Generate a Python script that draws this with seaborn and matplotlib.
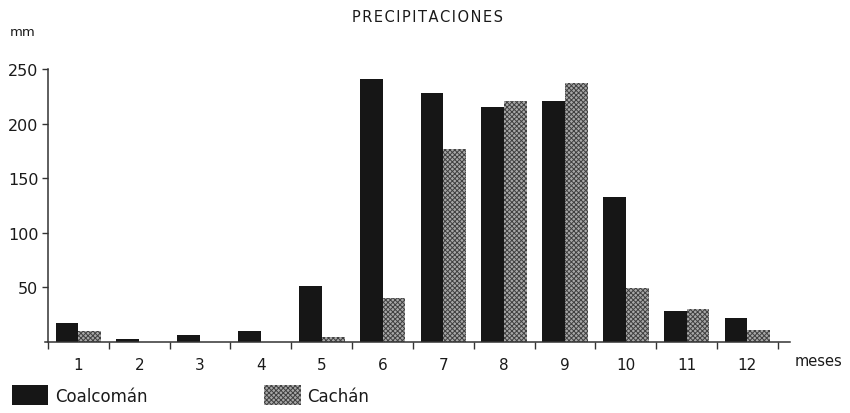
import matplotlib
matplotlib.use("Agg")
import matplotlib.pyplot as plt
import pandas as pd
import seaborn as sns

# datos (mm por mes)
meses = ["1", "2", "3", "4", "5", "6", "7", "8", "9", "10", "11", "12"]
coalcoman = [17, 3, 6, 10, 51, 241, 228, 215, 221, 133, 28, 22]
cachan = [10, 0, 0, 0, 5, 40, 177, 221, 237, 49, 30, 11]
estaciones = ["Coalcomán", "Cachán"]

df = pd.DataFrame({
    "mes": meses * 2,
    "mm": coalcoman + cachan,
    "estacion": [estaciones[0]] * 12 + [estaciones[1]] * 12,
})

sns.set_style("ticks")
plt.rcParams["font.family"] = ["DejaVu Sans"]
plt.rcParams["hatch.linewidth"] = 0.7
plt.rcParams["text.color"] = "#1a1a1a"
plt.rcParams["xtick.labelcolor"] = "#1a1a1a"
plt.rcParams["ytick.labelcolor"] = "#1a1a1a"

fig = plt.figure(figsize=(8.5, 4.14), dpi=100)
ax = fig.add_axes([45 / 850, 71 / 414, 745 / 850, 278.5 / 414])

sns.barplot(data=df, x="mes", y="mm", hue="estacion", order=meses,
            hue_order=estaciones, palette=["#161616", "#a8a8a8"],
            width=0.75, gap=0, saturation=1, legend=False, ax=ax)

for bar in ax.containers[0]:
    bar.set_linewidth(0)
for bar in ax.containers[1]:
    bar.set_hatch("xxxxxxx")
    bar.set_edgecolor("#404040")
    bar.set_linewidth(0)

ax.set_xlim(-0.55, 11.7)
ax.set_ylim(0, 255)
ax.set_xlabel("")
ax.set_ylabel("")

for s in ["top", "right"]:
    ax.spines[s].set_visible(False)
ax.spines["left"].set_position(("data", -0.5))
ax.spines["left"].set_bounds(0, 250)
for s in ["left", "bottom"]:
    ax.spines[s].set_color("#333333")
    ax.spines[s].set_linewidth(1.1)

ax.set_yticks([50, 100, 150, 200, 250])
ax.tick_params(axis="y", length=4, width=1, color="#333333", labelsize=11.5, pad=3)
ax.set_xticks(range(12))
ax.set_xticklabels(meses)
ax.set_xticks([i - 0.5 for i in range(13)], minor=True)
ax.tick_params(axis="x", which="major", length=0, labelsize=11, pad=11)
ax.tick_params(axis="x", which="minor", length=5, width=1, color="#333333")

fig.text(427 / 850, 1 - 18 / 414, "P R E C I P I T A C I O N E S".replace(" ", "\u200a"),
         ha="center", va="center", fontsize=10.5)
fig.text(10 / 850, 1 - 33 / 414, "mm", ha="left", va="center", fontsize=9.5)
fig.text(795 / 850, 1 - 362 / 414, "meses", ha="left", va="center", fontsize=10.5)

# leyenda
handles = [ax.containers[0][0], ax.containers[1][0]]
fig.legend(handles, estaciones, loc="lower left", bbox_to_anchor=(0.006, 0.004),
           ncol=2, frameon=False, fontsize=12, handlelength=2.2, handleheight=1.4,
           handletextpad=0.4, columnspacing=7.0, borderaxespad=0)

fig.savefig("out.png", dpi=100)
